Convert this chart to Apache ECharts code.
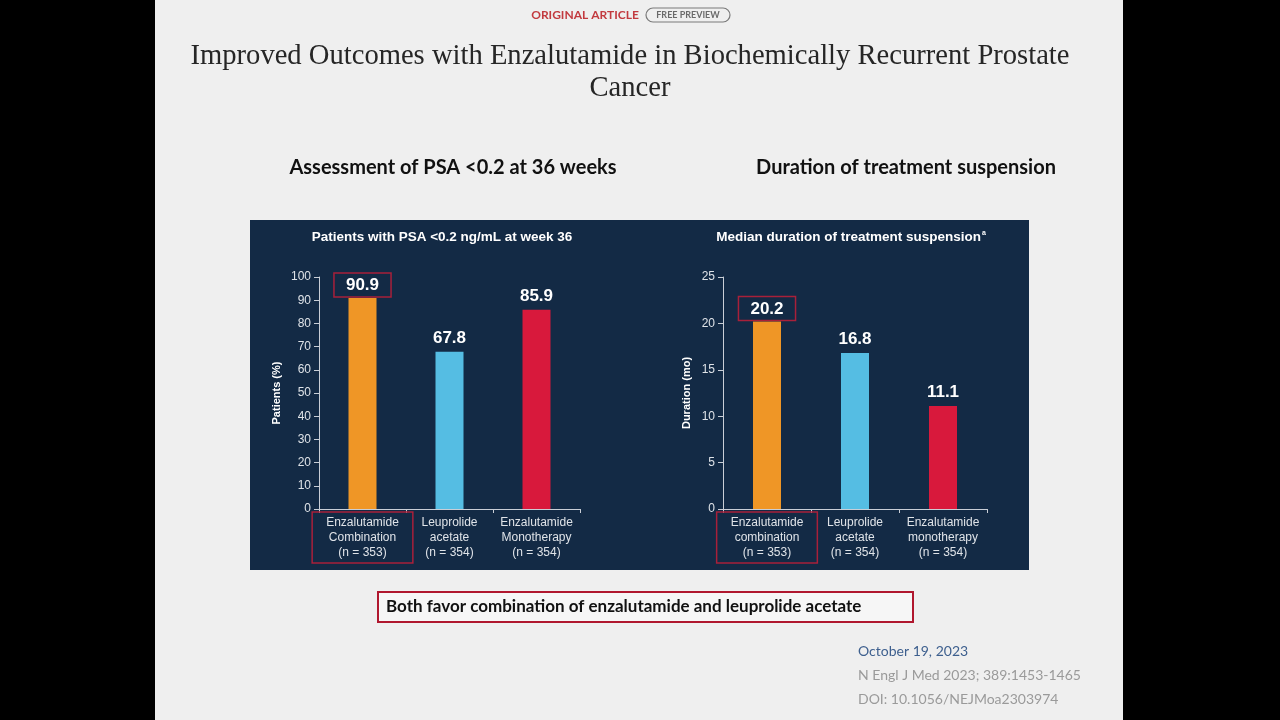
<!DOCTYPE html>
<html lang="en">
<head>
    <meta charset="UTF-8">
    <title>chart</title>
    <script src="https://cdn.jsdelivr.net/npm/echarts@6/dist/echarts.min.js"></script>
    <style>
        html, body {
            margin: 0;
            height: 100%;
            background: #000;
        }
        #app {
            width: 1280px;
            height: 720px;
        }
    </style>
</head>
<body>
<div id="app"></div>
<script>
    // data
    var psaCategories = ['Enzalutamide\nCombination\n(n = 353)', 'Leuprolide\nacetate\n(n = 354)', 'Enzalutamide\nMonotherapy\n(n = 354)'];
    var psaValues = [90.9, 67.8, 85.9];
    var psaTicks = [0, 100, 10];

    var durCategories = ['Enzalutamide\ncombination\n(n = 353)', 'Leuprolide\nacetate\n(n = 354)', 'Enzalutamide\nmonotherapy\n(n = 354)'];
    var durValues = [20.2, 16.8, 11.1];
    var durTicks = [0, 25, 5];

    var barColors = ['#ef9626', '#55bde3', '#d8193c'];
    var boxRed = '#a8203a';
    var chartFont = 'Liberation Sans';

    function catData(cats) {
        return cats.map(function (c, i) {
            if (i === 0) {
                return {
                    value: c,
                    textStyle: {
                        borderColor: boxRed,
                        borderWidth: 1.5,
                        padding: [3, 14, 3, 14]
                    }
                };
            }
            return {value: c, textStyle: {padding: [3, 0, 3, 0]}};
        });
    }

    function barData(vals) {
        return vals.map(function (v, i) {
            var item = {value: v, itemStyle: {color: barColors[i]}};
            if (i === 0) {
                item.label = {
                    borderColor: boxRed,
                    borderWidth: 1.5,
                    padding: [4, 12, 3, 12],
                    distance: 1
                };
            }
            return item;
        });
    }

    function xAxisFor(idx, cats) {
        return {
            type: 'category',
            gridIndex: idx,
            data: catData(cats),
            axisLine: {lineStyle: {color: '#c9ced6', width: 1}},
            axisTick: {show: true, length: 4, lineStyle: {color: '#c9ced6'}},
            axisLabel: {
                color: '#dfe3e8',
                fontFamily: chartFont,
                fontSize: 12,
                lineHeight: 15,
                margin: 3,
                interval: 0
            }
        };
    }

    function yAxisFor(idx, ticks, name, gap) {
        return {
            type: 'value',
            gridIndex: idx,
            min: ticks[0],
            max: ticks[1],
            interval: ticks[2],
            name: name,
            nameLocation: 'middle',
            nameGap: gap,
            nameRotate: 90,
            nameTextStyle: {color: '#ffffff', fontFamily: chartFont, fontWeight: 'bold', fontSize: 11},
            axisLine: {show: true, lineStyle: {color: '#c9ced6', width: 1}},
            axisTick: {show: true, length: 5, lineStyle: {color: '#c9ced6'}},
            axisLabel: {color: '#dfe3e8', fontFamily: chartFont, fontSize: 12, margin: 8},
            splitLine: {show: false}
        };
    }

    function barSeries(idx, vals) {
        return {
            type: 'bar',
            xAxisIndex: idx,
            yAxisIndex: idx,
            barWidth: 28,
            data: barData(vals),
            label: {
                show: true,
                position: 'top',
                distance: 5,
                color: '#ffffff',
                fontFamily: chartFont,
                fontWeight: 'bold',
                fontSize: 17
            },
            animation: false
        };
    }

    var option = {
        backgroundColor: '#000000',
        animation: false,
        graphic: [
            {type: 'rect', shape: {x: 155, y: 0, width: 968, height: 720}, style: {fill: '#efefef'}, z: -10},
            {type: 'rect', shape: {x: 250, y: 220, width: 779, height: 350}, style: {fill: '#132a45'}, z: -5},
            // header
            {type: 'text', x: 585, y: 15, style: {text: 'ORIGINAL ARTICLE', fill: '#c23a3f', font: 'bold 12px Lato', align: 'center', verticalAlign: 'middle'}},
            {type: 'rect', shape: {x: 646, y: 8, width: 84, height: 14, r: 7}, style: {fill: 'none', stroke: '#7a7a7a', lineWidth: 1.2}},
            {type: 'text', x: 688, y: 15, style: {text: 'FREE PREVIEW', fill: '#6a6a6a', font: 'bold 9px Lato', align: 'center', verticalAlign: 'middle'}},
            {type: 'text', x: 630, y: 56, style: {text: 'Improved Outcomes with Enzalutamide in Biochemically Recurrent Prostate', fill: '#262626', font: '28.6px "Liberation Serif"', align: 'center', verticalAlign: 'middle'}},
            {type: 'text', x: 630, y: 88, style: {text: 'Cancer', fill: '#262626', font: '28.6px "Liberation Serif"', align: 'center', verticalAlign: 'middle'}},
            {type: 'text', x: 453, y: 168, style: {text: 'Assessment of PSA <0.2 at 36 weeks', fill: '#111111', font: 'bold 20px Lato', align: 'center', verticalAlign: 'middle'}},
            {type: 'text', x: 906, y: 168, style: {text: 'Duration of treatment suspension', fill: '#111111', font: 'bold 20px Lato', align: 'center', verticalAlign: 'middle'}},
            // panel titles
            {type: 'text', x: 442, y: 237, style: {text: 'Patients with PSA <0.2 ng/mL at week 36', fill: '#ffffff', font: 'bold 13.5px "Liberation Sans"', align: 'center', verticalAlign: 'middle'}},
            {
                type: 'text', x: 851, y: 237,
                style: {
                    text: '{t|Median duration of treatment suspension}{s|a}',
                    align: 'center', verticalAlign: 'middle',
                    rich: {
                        t: {fill: '#ffffff', font: 'bold 13.5px "Liberation Sans"'},
                        s: {fill: '#ffffff', font: 'bold 7px "Liberation Sans"', verticalAlign: 'top', padding: [0, 0, 7, 1]}
                    }
                }
            },
            // conclusion box
            {type: 'rect', shape: {x: 378, y: 592, width: 535, height: 30}, style: {fill: '#f6f6f6', stroke: '#b0172e', lineWidth: 2}},
            {type: 'text', x: 386, y: 607, style: {text: 'Both favor combination of enzalutamide and leuprolide acetate', fill: '#111111', font: 'bold 17px Lato', align: 'left', verticalAlign: 'middle'}},
            // citation
            {type: 'text', x: 858, y: 651, style: {text: 'October 19, 2023', fill: '#3d5f8e', font: '14px Lato', align: 'left', verticalAlign: 'middle'}},
            {type: 'text', x: 858, y: 675, style: {text: 'N Engl J Med 2023; 389:1453-1465', fill: '#9a9a9a', font: '14px Lato', align: 'left', verticalAlign: 'middle'}},
            {type: 'text', x: 858, y: 699, style: {text: 'DOI: 10.1056/NEJMoa2303974', fill: '#9a9a9a', font: '14px Lato', align: 'left', verticalAlign: 'middle'}}
        ],
        grid: [
            {left: 319, right: 700, top: 277, bottom: 211, containLabel: false},
            {left: 723, right: 293, top: 277, bottom: 211, containLabel: false}
        ],
        xAxis: [xAxisFor(0, psaCategories), xAxisFor(1, durCategories)],
        yAxis: [yAxisFor(0, psaTicks, 'Patients (%)', 37), yAxisFor(1, durTicks, 'Duration (mo)', 31)],
        series: [barSeries(0, psaValues), barSeries(1, durValues)]
    };

    var myChart = echarts.init(document.getElementById('app'));
    myChart.setOption(option);
</script>
</body>
</html>
